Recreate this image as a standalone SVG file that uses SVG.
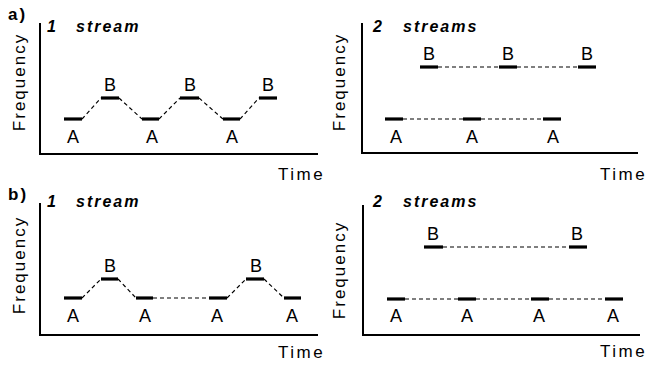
<svg xmlns="http://www.w3.org/2000/svg" width="649" height="371" viewBox="0 0 649 371">
<style>
text{font-family:"Liberation Sans",Arial,sans-serif;fill:#000}
.lbl{font-size:18px;text-anchor:middle}
.ttl{font-size:16px;font-weight:bold;font-style:italic;letter-spacing:2px}
.pan{font-size:17px;font-weight:bold;letter-spacing:2px}
.time{font-size:17px;letter-spacing:2.5px}
.freq{font-size:17px;letter-spacing:2px;text-anchor:middle}
.axis{fill:none;stroke:#000;stroke-width:2}
.tone{stroke:#000;stroke-width:3.2}
.con{fill:none;stroke:#000;stroke-width:1.2;stroke-dasharray:4 3}
</style>
<rect width="649" height="371" fill="#fff"/>

<g id="frames">
<text class="pan" x="8" y="20">a)</text>
<text class="pan" x="8" y="200">b)</text>
<path class="axis" d="M40,23 V154 H318"/>
<path class="axis" d="M362,23 V153 H638"/>
<path class="axis" d="M40,203 V335 H318"/>
<path class="axis" d="M363,205 V335 H640"/>
<text class="ttl" x="47" y="32">1</text><text class="ttl" x="76" y="32">stream</text>
<text class="ttl" x="373" y="32">2</text><text class="ttl" x="403" y="32">streams</text>
<text class="ttl" x="47" y="207">1</text><text class="ttl" x="76" y="207">stream</text>
<text class="ttl" x="373" y="207">2</text><text class="ttl" x="403" y="207">streams</text>
<text class="time" x="278" y="180">Time</text>
<text class="time" x="600" y="180">Time</text>
<text class="time" x="278" y="358">Time</text>
<text class="time" x="600" y="357">Time</text>
<text class="freq" transform="translate(25,82) rotate(-90)">Frequency</text>
<text class="freq" transform="translate(345,82) rotate(-90)">Frequency</text>
<text class="freq" transform="translate(25,265) rotate(-90)">Frequency</text>
<text class="freq" transform="translate(345,270) rotate(-90)">Frequency</text>
</g>

<g id="connectors">
<path class="con" d="M82,119 L101,98 M119,98 L142,119 M159,119 L180,98 M199,98 L223,119 M240,119 L259,98"/>
<path class="con" d="M438,67 H499 M517,67 H578 M403,119 H463 M481,119 H543"/>
<path class="con" d="M82,298 L101,279 M118,279 L136,298 M153,298 H209 M227,298 L246,279 M264,279 L284,298"/>
<path class="con" d="M443,247 H569 M405,299 H458 M476,299 H531 M549,299 H605"/>
</g>

<g id="a1-A1"><line class="tone" x1="64" y1="119" x2="82" y2="119"/><text class="lbl" x="73" y="143">A</text></g>
<g id="a1-B1"><line class="tone" x1="101" y1="98" x2="119" y2="98"/><text class="lbl" x="110" y="91">B</text></g>
<g id="a1-A2"><line class="tone" x1="142" y1="119" x2="159" y2="119"/><text class="lbl" x="152" y="143">A</text></g>
<g id="a1-B2"><line class="tone" x1="180" y1="98" x2="199" y2="98"/><text class="lbl" x="190" y="91">B</text></g>
<g id="a1-A3"><line class="tone" x1="223" y1="119" x2="240" y2="119"/><text class="lbl" x="232" y="143">A</text></g>
<g id="a1-B3"><line class="tone" x1="259" y1="98" x2="277" y2="98"/><text class="lbl" x="268" y="91">B</text></g>

<g id="a2-B1"><line class="tone" x1="420" y1="67" x2="438" y2="67"/><text class="lbl" x="429" y="60">B</text></g>
<g id="a2-B2"><line class="tone" x1="499" y1="67" x2="517" y2="67"/><text class="lbl" x="508" y="60">B</text></g>
<g id="a2-B3"><line class="tone" x1="578" y1="67" x2="596" y2="67"/><text class="lbl" x="587" y="60">B</text></g>
<g id="a2-A1"><line class="tone" x1="385" y1="119" x2="403" y2="119"/><text class="lbl" x="396" y="143">A</text></g>
<g id="a2-A2"><line class="tone" x1="463" y1="119" x2="481" y2="119"/><text class="lbl" x="472" y="143">A</text></g>
<g id="a2-A3"><line class="tone" x1="543" y1="119" x2="561" y2="119"/><text class="lbl" x="553" y="143">A</text></g>

<g id="b1-A1"><line class="tone" x1="64" y1="298" x2="82" y2="298"/><text class="lbl" x="73" y="322">A</text></g>
<g id="b1-B1"><line class="tone" x1="101" y1="279" x2="118" y2="279"/><text class="lbl" x="110" y="272">B</text></g>
<g id="b1-A2"><line class="tone" x1="136" y1="298" x2="153" y2="298"/><text class="lbl" x="145" y="322">A</text></g>
<g id="b1-A3"><line class="tone" x1="209" y1="298" x2="227" y2="298"/><text class="lbl" x="217" y="322">A</text></g>
<g id="b1-B2"><line class="tone" x1="246" y1="279" x2="264" y2="279"/><text class="lbl" x="256" y="272">B</text></g>
<g id="b1-A4"><line class="tone" x1="284" y1="298" x2="301" y2="298"/><text class="lbl" x="292" y="322">A</text></g>

<g id="b2-B1"><line class="tone" x1="424" y1="247" x2="443" y2="247"/><text class="lbl" x="433" y="240">B</text></g>
<g id="b2-B2"><line class="tone" x1="569" y1="247" x2="587" y2="247"/><text class="lbl" x="577" y="240">B</text></g>
<g id="b2-A1"><line class="tone" x1="387" y1="299" x2="405" y2="299"/><text class="lbl" x="396" y="322">A</text></g>
<g id="b2-A2"><line class="tone" x1="458" y1="299" x2="476" y2="299"/><text class="lbl" x="467" y="322">A</text></g>
<g id="b2-A3"><line class="tone" x1="531" y1="299" x2="549" y2="299"/><text class="lbl" x="539" y="322">A</text></g>
<g id="b2-A4"><line class="tone" x1="605" y1="299" x2="623" y2="299"/><text class="lbl" x="613" y="322">A</text></g>
</svg>
